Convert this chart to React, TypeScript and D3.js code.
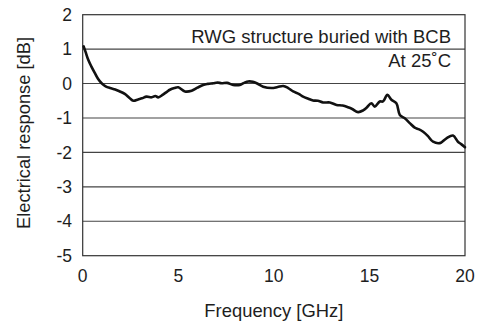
import React from "react";
import * as d3 from "d3";

const freqGHz = [0.05, 0.15, 0.29, 0.45, 0.64, 0.8, 0.99, 1.2, 1.43, 1.7, 1.95, 2.2, 2.45, 2.65, 2.9, 3.1, 3.34, 3.6, 3.8, 3.95, 4.2, 4.4, 4.56, 4.8, 5.0, 5.35, 5.7, 6.0, 6.3, 6.55, 6.83, 7.05, 7.27, 7.55, 7.87, 8.22, 8.45, 8.66, 8.9, 9.1, 9.44, 9.88, 10.2, 10.49, 10.75, 11.01, 11.3, 11.53, 11.8, 12.05, 12.3, 12.58, 12.93, 13.28, 13.6, 13.88, 14.1, 14.41, 14.67, 14.85, 15.1, 15.28, 15.54, 15.71, 15.94, 16.15, 16.41, 16.59, 16.85, 17.11, 17.37, 17.6, 17.81, 18.05, 18.33, 18.68, 19.03, 19.37, 19.63, 19.8, 20.0];
const responseDb = [1.08, 0.92, 0.69, 0.5, 0.3, 0.14, 0.01, -0.08, -0.13, -0.17, -0.23, -0.3, -0.42, -0.5, -0.46, -0.43, -0.38, -0.4, -0.36, -0.4, -0.32, -0.24, -0.18, -0.13, -0.11, -0.23, -0.21, -0.12, -0.04, -0.01, 0.01, 0.03, 0.01, 0.02, -0.04, -0.04, 0.02, 0.06, 0.05, 0.01, -0.09, -0.13, -0.1, -0.07, -0.13, -0.23, -0.3, -0.38, -0.44, -0.49, -0.5, -0.55, -0.55, -0.62, -0.64, -0.69, -0.74, -0.83, -0.78, -0.7, -0.57, -0.67, -0.52, -0.52, -0.33, -0.47, -0.57, -0.91, -1.01, -1.15, -1.28, -1.33, -1.4, -1.52, -1.69, -1.73, -1.59, -1.51, -1.69, -1.76, -1.85];
const yTicks = [2, 1, 0, -1, -2, -3, -4, -5];
const xTicks = [0, 5, 10, 15, 20];
const gridValues = [1, 0, -1, -2, -3, -4];
const annotationLines = ["RWG structure buried with BCB", "At 25˚C"];

const W = 482;
const H = 327;
const left = 82.7;
const right = 465;
const top = 14.7;
const bottom = 255.7;
const font = "'Liberation Sans', Arial, Helvetica, sans-serif";
const textColor = "#1e1e1e";

export default function App() {
  const x = d3.scaleLinear().domain([0, 20]).range([left, right]);
  const y = d3.scaleLinear().domain([-5, 2]).range([bottom, top]);
  const line = d3
    .line<number>()
    .x((_, i) => x(freqGHz[i]))
    .y((d) => y(d))
    .curve(d3.curveCatmullRom.alpha(0.5));

  return (
    <svg
      width={W}
      height={H}
      style={{ position: "absolute", left: 0, top: 0, background: "#fff" }}
      fontFamily={font}
    >
      <rect x={0} y={0} width={W} height={H} fill="#fff" />
      {gridValues.map((v) => (
        <line
          key={v}
          x1={left}
          x2={right}
          y1={y(v)}
          y2={y(v)}
          stroke="#444"
          strokeWidth={1.1}
        />
      ))}
      <rect
        x={left}
        y={top}
        width={right - left}
        height={bottom - top}
        fill="none"
        stroke="#333"
        strokeWidth={1.2}
      />
      <path d={line(responseDb) || ""} fill="none" stroke="#111" strokeWidth={2.6} strokeLinejoin="round" strokeLinecap="round" />
      {yTicks.map((v) => (
        <text
          key={v}
          x={72}
          y={y(v)}
          dy="0.35em"
          textAnchor="end"
          fontSize={17.5}
          fill={textColor}
        >
          {v}
        </text>
      ))}
      {xTicks.map((v) => (
        <text
          key={v}
          x={x(v)}
          y={281.5}
          textAnchor="middle"
          fontSize={17.5}
          fill={textColor}
        >
          {v}
        </text>
      ))}
      <text x={(left + right) / 2} y={317} textAnchor="middle" fontSize={18.4} fill={textColor}>
        Frequency [GHz]
      </text>
      <text
        transform={`translate(24, 133) rotate(-90)`}
        textAnchor="middle"
        dy="0.35em"
        fontSize={18.3}
        fill={textColor}
      >
        Electrical response [dB]
      </text>
      {annotationLines.map((t, i) => (
        <text key={t} x={451} y={42.7 + i * 24} textAnchor="end" fontSize={18.5} fill={textColor}>
          {t}
        </text>
      ))}
    </svg>
  );
}
